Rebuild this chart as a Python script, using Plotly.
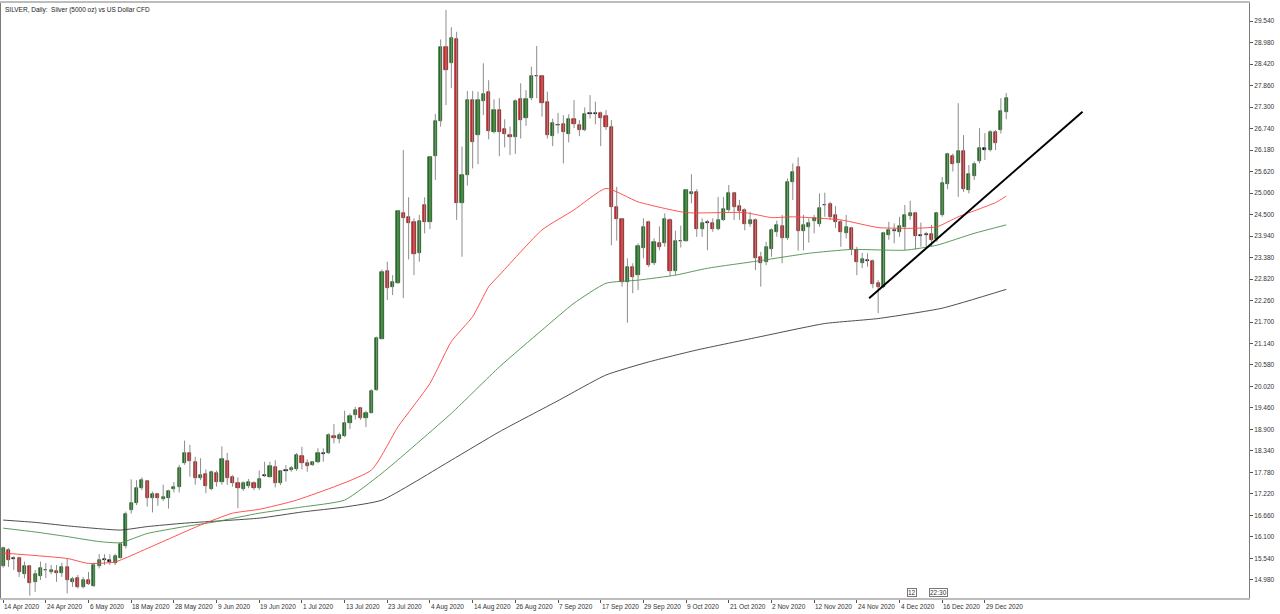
"""SILVER daily candles with three moving averages and a trend line."""
import pandas as pd
import plotly.graph_objects as go

# ---- data ----------------------------------------------------------------
opens = [
    15.35, 15.76, 15.55, 15.56, 15.13, 15.34, 14.92, 15.08, 15.23, 15.20,
    15.21, 15.17, 15.33, 14.92, 15.02, 14.79, 14.98, 14.83, 15.34, 15.51,
    15.50, 15.43, 15.56, 15.86, 16.80, 16.98, 17.37, 17.56, 17.12, 17.21,
    17.09, 17.11, 17.34, 17.40, 18.02, 18.29, 18.06, 17.64, 17.73, 17.35,
    17.76, 17.52, 18.08, 17.65, 17.51, 17.35, 17.43, 17.50, 17.37, 17.70,
    17.67, 17.91, 17.50, 17.83, 17.84, 17.86, 18.22, 18.02, 17.97, 18.06,
    18.27, 18.28, 18.73, 18.64, 18.74, 19.06, 19.28, 19.45, 19.19, 19.34,
    19.93, 21.27, 23.04, 22.62, 22.71, 24.53, 24.44, 24.31, 23.50, 24.75,
    24.30, 26.02, 26.94, 28.87, 28.44, 29.06, 24.81, 25.53, 27.48, 26.57,
    27.46, 27.70, 26.66, 27.22, 26.73, 26.57, 26.51, 27.50, 27.01, 27.53,
    28.10, 28.11, 27.44, 26.54, 26.82, 26.86, 26.61, 26.98, 26.83, 26.70,
    27.13, 27.15, 27.14, 27.07, 26.77, 24.70, 24.38, 22.75, 23.14, 22.92,
    23.64, 24.30, 23.23, 23.75, 23.77, 24.36, 23.04, 23.80, 23.81, 25.03,
    25.09, 24.12, 24.28, 24.29, 24.12, 24.36, 24.62, 25.05, 24.72, 24.63,
    24.25, 24.37, 23.40, 23.27, 23.59, 24.05, 24.21, 23.88, 25.34, 25.74,
    24.08, 24.18, 24.34, 24.25, 24.74, 24.77, 24.49, 24.31, 24.03, 24.14,
    23.57, 23.24, 23.30, 23.30, 22.72, 22.62, 23.97, 24.07, 24.05, 24.18,
    24.46, 24.55, 23.95, 23.97, 23.98, 23.85, 24.49, 25.29, 26.02, 25.83,
    26.16, 25.14, 25.51, 25.89, 26.22, 26.18, 26.66, 26.70, 27.18,
]
highs = [
    15.85, 15.81, 15.60, 15.59, 15.46, 15.37, 15.24, 15.46, 15.42, 15.37,
    15.37, 15.43, 15.54, 15.06, 15.11, 15.06, 15.19, 15.43, 15.65, 15.65,
    15.65, 15.66, 15.93, 16.76, 17.60, 17.58, 17.65, 17.58, 17.28, 17.23,
    17.46, 17.33, 17.53, 17.98, 18.61, 18.50, 18.19, 18.15, 17.86, 17.83,
    17.83, 18.46, 18.29, 17.71, 17.65, 17.55, 17.61, 17.55, 17.83, 18.06,
    18.06, 18.10, 17.84, 17.97, 17.95, 18.29, 18.45, 18.12, 18.08, 18.41,
    18.41, 18.80, 19.04, 18.82, 19.39, 19.32, 19.49, 19.49, 19.39, 19.95,
    21.32, 23.07, 23.27, 22.92, 24.62, 26.18, 24.95, 24.40, 24.49, 24.95,
    26.02, 27.12, 29.06, 29.83, 29.38, 29.26, 26.27, 27.72, 27.72, 27.70,
    28.44, 28.00, 27.50, 27.53, 26.98, 26.79, 27.50, 27.92, 27.74, 28.35,
    28.89, 28.13, 27.70, 27.00, 27.15, 27.09, 27.11, 27.48, 26.96, 27.29,
    27.61, 27.44, 27.18, 27.22, 26.96, 25.22, 24.40, 23.36, 23.23, 23.75,
    24.40, 24.34, 23.88, 24.19, 24.53, 24.40, 24.08, 24.21, 25.16, 25.55,
    25.16, 24.40, 24.36, 24.40, 24.96, 24.96, 25.27, 25.09, 24.88, 24.66,
    24.57, 24.40, 23.53, 23.79, 24.14, 24.34, 24.49, 25.44, 25.83, 25.99,
    24.49, 24.40, 24.49, 25.05, 25.07, 24.83, 24.72, 24.36, 24.49, 24.18,
    23.66, 23.50, 23.49, 23.33, 22.79, 24.05, 24.31, 24.27, 24.44, 24.75,
    24.86, 24.57, 24.29, 24.05, 24.23, 24.57, 25.48, 26.11, 26.09, 27.40,
    26.57, 25.79, 25.88, 26.75, 26.62, 26.70, 26.70, 27.53, 27.67,
]
lows = [
    15.30, 15.32, 15.24, 15.06, 15.02, 14.57, 14.67, 14.98, 15.03, 15.13,
    14.93, 15.06, 14.63, 14.80, 14.76, 14.76, 14.85, 14.80, 15.28, 15.37,
    15.37, 15.37, 15.54, 15.80, 16.71, 16.93, 17.32, 16.89, 16.74, 16.91,
    17.04, 16.84, 17.26, 17.26, 17.98, 17.67, 17.46, 17.58, 17.24, 17.32,
    17.41, 17.46, 17.46, 17.41, 16.85, 17.30, 17.37, 17.32, 17.32, 17.66,
    17.65, 17.39, 17.45, 17.54, 17.80, 17.82, 17.86, 17.80, 17.95, 18.02,
    18.06, 18.26, 18.54, 18.54, 18.70, 18.91, 19.16, 19.15, 18.96, 19.32,
    19.91, 21.25, 22.27, 22.40, 22.69, 22.32, 23.33, 22.92, 23.27, 24.01,
    24.12, 25.40, 26.79, 27.35, 27.79, 24.36, 23.40, 25.25, 25.70, 25.81,
    27.09, 26.46, 26.61, 26.02, 26.25, 26.05, 26.08, 26.48, 26.81, 27.48,
    27.53, 27.05, 26.48, 26.28, 26.61, 25.83, 26.38, 26.75, 26.54, 26.67,
    27.00, 26.85, 26.28, 26.70, 23.70, 23.82, 22.62, 21.68, 22.45, 22.53,
    23.36, 23.13, 23.18, 23.57, 23.66, 22.90, 22.92, 23.64, 23.79, 24.79,
    23.92, 23.92, 23.57, 24.05, 24.09, 24.34, 24.57, 24.36, 24.36, 24.09,
    24.18, 23.05, 22.62, 23.18, 23.40, 23.92, 23.23, 23.84, 24.88, 23.56,
    23.57, 23.77, 24.01, 24.18, 24.44, 24.36, 24.15, 23.66, 23.88, 23.44,
    22.92, 23.10, 23.14, 22.58, 21.93, 22.58, 23.84, 23.75, 23.92, 23.57,
    24.36, 23.59, 23.66, 23.66, 23.66, 23.79, 24.44, 25.16, 25.62, 24.96,
    25.09, 25.05, 25.40, 25.83, 25.92, 26.14, 26.18, 26.61, 26.98,
]
closes = [
    15.80, 15.50, 15.53, 15.19, 15.35, 14.91, 15.13, 15.28, 15.25, 15.24,
    15.17, 15.33, 14.98, 15.01, 14.80, 14.98, 14.87, 15.37, 15.50, 15.53,
    15.46, 15.60, 15.91, 16.69, 16.98, 17.37, 17.58, 17.12, 17.21, 17.12,
    17.15, 17.30, 17.41, 17.90, 18.30, 18.08, 17.64, 17.71, 17.43, 17.78,
    17.54, 18.12, 17.64, 17.50, 17.37, 17.50, 17.54, 17.37, 17.61, 17.71,
    17.95, 17.50, 17.81, 17.84, 17.89, 18.23, 18.02, 17.95, 18.06, 18.28,
    18.28, 18.75, 18.67, 18.75, 19.06, 19.25, 19.42, 19.19, 19.34, 19.91,
    21.29, 23.01, 22.59, 22.75, 24.60, 24.40, 24.29, 23.46, 24.33, 24.31,
    26.01, 26.93, 28.87, 28.26, 29.10, 24.79, 25.53, 27.48, 26.40, 27.48,
    27.63, 26.68, 27.22, 26.66, 26.60, 26.51, 27.46, 26.96, 27.50, 28.12,
    28.12, 27.41, 26.57, 26.89, 26.84, 26.64, 26.98, 26.87, 26.70, 27.11,
    27.15, 27.13, 27.01, 26.77, 24.70, 24.38, 22.75, 23.14, 22.88, 23.68,
    24.17, 23.18, 23.79, 23.66, 24.38, 23.04, 23.81, 23.82, 25.14, 25.09,
    24.11, 24.27, 24.30, 24.12, 24.37, 24.64, 25.05, 24.70, 24.60, 24.25,
    24.36, 23.36, 23.24, 23.66, 24.10, 24.23, 23.88, 25.35, 25.61, 24.08,
    24.23, 24.27, 24.40, 24.66, 24.76, 24.43, 24.31, 24.05, 24.18, 23.59,
    23.27, 23.34, 23.32, 22.69, 22.62, 24.01, 24.10, 24.09, 24.20, 24.49,
    24.55, 23.94, 23.97, 23.99, 23.84, 24.53, 25.33, 26.07, 25.81, 26.16,
    25.16, 25.55, 25.81, 26.22, 26.18, 26.66, 26.37, 27.20, 27.53,
]

# moving averages, sampled at bar numbers
ma_red_bar = [0, 12, 16, 21, 27, 37, 43, 48, 55, 69, 74, 80, 84, 88, 91, 93,
              101, 107, 113, 119, 128, 139, 144, 148, 157, 164, 170, 175,
              179, 186, 188]
ma_red = [15.68, 15.54, 15.41, 15.45, 15.80, 16.41, 16.72, 16.82, 17.06,
          17.84, 18.97, 20.10, 21.19, 21.84, 22.62, 22.92, 24.10, 24.62,
          25.18, 24.83, 24.55, 24.55, 24.42, 24.44, 24.36, 24.16, 24.14,
          24.18, 24.44, 24.81, 24.98]
ma_green_bar = [0, 6, 12, 18, 22, 27, 34, 40, 48, 56, 64, 71, 84, 93, 101,
                107, 113, 119, 126, 132, 142, 151, 159, 169, 175, 182, 188]
ma_green = [16.33, 16.23, 16.11, 15.98, 15.95, 16.19, 16.37, 16.50, 16.72,
            16.88, 17.06, 17.76, 19.32, 20.53, 21.49, 22.19, 22.71, 22.79,
            22.92, 23.10, 23.30, 23.49, 23.59, 23.57, 23.70, 24.01, 24.23]
ma_black_bar = [0, 6, 12, 22, 27, 34, 48, 56, 64, 71, 84, 93, 104, 113, 121,
                130, 142, 154, 164, 176, 188]
ma_black = [16.54, 16.48, 16.39, 16.28, 16.37, 16.46, 16.59, 16.75, 16.88,
            17.06, 18.10, 18.84, 19.65, 20.32, 20.66, 20.97, 21.32, 21.66,
            21.79, 22.06, 22.55]

# hand-drawn trend line (bar number, price)
trend_bar = [162.3, 202.3]
trend_price = [22.32, 27.18]

tick_labels = ["14 Apr 2020", "24 Apr 2020", "6 May 2020", "18 May 2020",
               "28 May 2020", "9 Jun 2020", "19 Jun 2020", "1 Jul 2020",
               "13 Jul 2020", "23 Jul 2020", "4 Aug 2020", "14 Aug 2020",
               "26 Aug 2020", "7 Sep 2020", "17 Sep 2020", "29 Sep 2020",
               "9 Oct 2020", "21 Oct 2020", "2 Nov 2020", "12 Nov 2020",
               "24 Nov 2020", "4 Dec 2020", "16 Dec 2020", "29 Dec 2020"]

# trading days shown on the chart (no bar on these days)
closed_days = ["2020-12-25", "2021-01-01"]
dates = pd.bdate_range("2020-04-14", "2021-01-05")
dates = dates[~dates.isin(pd.to_datetime(closed_days))]
bars = list(range(len(dates)))

GREEN = "#1c7c1c"
RED = "#e0262b"
WICK = "#8c8c8c"
FONT = "Liberation Sans"

fig = go.Figure()

# wicks
wx, wy = [], []
for i in bars:
    wx += [i, i, None]
    wy += [lows[i], highs[i], None]
fig.add_trace(go.Scatter(x=wx, y=wy, mode="lines",
                         line=dict(color=WICK, width=1), hoverinfo="skip"))

# bodies
for kind, fill, edge in (("up", GREEN, "#0e3e0e"), ("down", RED, "#5a0a0a"),
                         ("flat", "#000000", "#000000")):
    xs, base, height = [], [], []
    for i in bars:
        diff = closes[i] - opens[i]
        k = "flat" if abs(diff) < 0.04 else ("up" if diff > 0 else "down")
        if k != kind:
            continue
        xs.append(i)
        base.append(min(opens[i], closes[i]))
        height.append(max(abs(diff), 0.015))
    fig.add_trace(go.Bar(x=xs, y=height, base=base, width=0.6,
                         marker=dict(color=fill,
                                     line=dict(color=edge, width=0.6)),
                         hoverinfo="skip"))

for bx, vals, col in ((ma_black_bar, ma_black, "#3a3a3a"),
                      (ma_green_bar, ma_green, "#4a8f4a"),
                      (ma_red_bar, ma_red, "#ff4040")):
    fig.add_trace(go.Scatter(x=bx, y=vals, mode="lines",
                             line=dict(color=col, width=0.9, shape="spline",
                                       smoothing=0.5),
                             hoverinfo="skip"))

fig.add_trace(go.Scatter(x=trend_bar, y=trend_price, mode="lines",
                         line=dict(color="#000000", width=2),
                         hoverinfo="skip"))

# date labels sit to the right of their tick, as in the terminal
label_bars = [int(dates.get_loc(pd.to_datetime(t, format="%d %b %Y")))
              for t in tick_labels]
annotations = [dict(x=b, y=0, xref="x", yref="paper", text=t,
                    showarrow=False, xanchor="left", yanchor="top",
                    xshift=-1, yshift=-3,
                    font=dict(family=FONT, size=6.5, color="#333333"))
               for b, t in zip(label_bars, tick_labels)]
annotations.append(dict(x=0, y=1, xref="paper", yref="paper",
                        text="SILVER, Daily:  Silver (5000 oz) vs US Dollar CFD",
                        showarrow=False, xanchor="left", yanchor="top",
                        xshift=2, yshift=-1,
                        font=dict(family=FONT, size=6.5, color="#222222")))
for b, t in ((170.4, "12"), (175.3, "22:30")):
    annotations.append(dict(x=b, y=0, xref="x", yref="paper", text=t,
                            showarrow=False, yanchor="bottom", yshift=1,
                            borderpad=0, bordercolor="#777777", borderwidth=1,
                            bgcolor="#ffffff",
                            font=dict(family=FONT, size=6.5, color="#333333")))

fig.update_layout(
    width=1280, height=614,
    margin=dict(l=1, r=31, t=3, b=16),
    paper_bgcolor="#ffffff", plot_bgcolor="#ffffff",
    showlegend=False, barmode="overlay", bargap=0,
    annotations=annotations,
    font=dict(family=FONT, size=6.5, color="#333333"),
)
fig.update_xaxes(
    range=[-0.4, 233.5], showgrid=False, zeroline=False,
    tickmode="array", tickvals=label_bars, showticklabels=False,
    ticks="outside", ticklen=3, tickcolor="#555555",
    showline=True, mirror=True, linecolor="#bdbdbd", linewidth=2,
)
fig.update_yaxes(
    side="right", range=[14.51, 30.01], showgrid=False, zeroline=False,
    tick0=14.98, dtick=0.56, tickformat=".3f",
    ticks="outside", ticklen=3, tickcolor="#555555",
    tickfont=dict(family=FONT, size=6.5, color="#333333"),
    showline=True, mirror=True, linecolor="#7a7a7a", linewidth=1,
)

# the page body has a default 8px margin; drop it so the chart fills the window
fig.write_html("out.html", config={"displayModeBar": False},
               post_script="document.body.style.margin='0px';")
